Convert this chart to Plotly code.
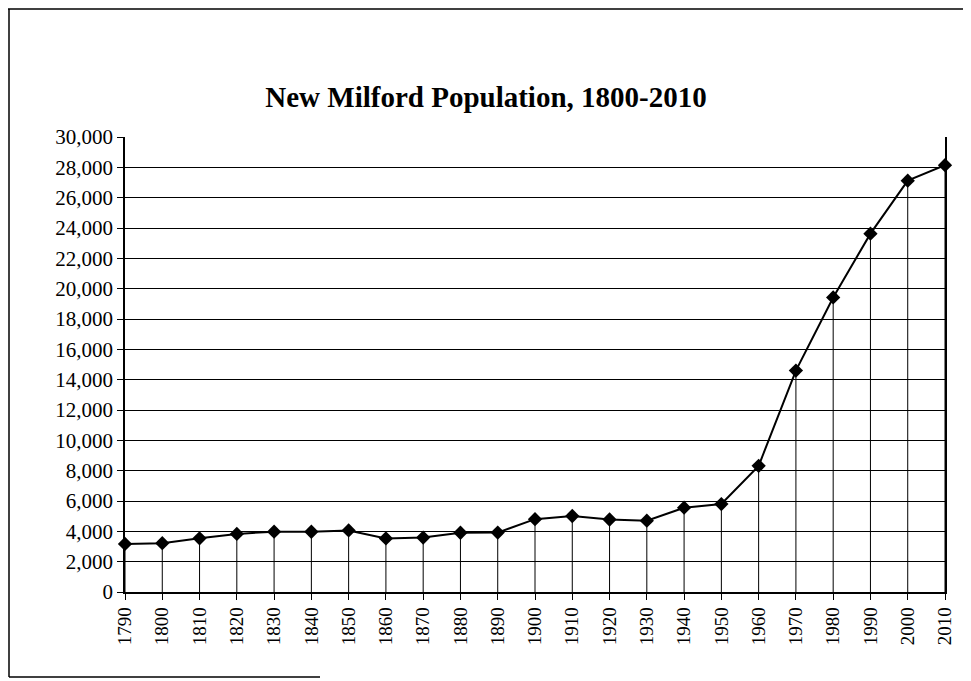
import plotly.graph_objects as go

years = [1790, 1800, 1810, 1820, 1830, 1840, 1850, 1860, 1870, 1880, 1890, 1900,
         1910, 1920, 1930, 1940, 1950, 1960, 1970, 1980, 1990, 2000, 2010]
population = [3167, 3221, 3537, 3830, 3979, 3974, 4058, 3535, 3586, 3907, 3917, 4804,
              5010, 4781, 4700, 5559, 5799, 8318, 14601, 19420, 23629, 27121, 28142]
year_labels = [str(y) for y in years]
title_text = "New Milford Population, 1800-2010"

OFF = 8  # page body margin
W, H = 971 - OFF, 681 - OFF
L, R, T, B = 125 - OFF, 945 - OFF, 137 - OFF, 592 - OFF

def px(x):
    return (x - OFF - L) / (R - L)

def py(y):
    return (B - (y - OFF)) / (B - T)

# drop lines from each point to the axis
drop_x, drop_y = [], []
for yr, v in zip(years, population):
    drop_x += [yr, yr, None]
    drop_y += [0, v, None]

fig = go.Figure()
fig.add_trace(go.Scatter(x=drop_x, y=drop_y, mode="lines",
                         line=dict(color="black", width=1),
                         hoverinfo="skip", showlegend=False))
fig.add_trace(go.Scatter(x=years, y=population, mode="lines+markers",
                         line=dict(color="black", width=2),
                         marker=dict(symbol="diamond", size=11, color="black"),
                         cliponaxis=False, showlegend=False))

font_family = "Liberation Serif, Times New Roman, serif"

fig.update_layout(
    width=W, height=H,
    margin=dict(l=L, r=W - R, t=T, b=H - B),
    paper_bgcolor="white", plot_bgcolor="white",
    title=dict(text="<b>" + title_text + "</b>", x=(486 - OFF) / W, xanchor="center",
               y=1 - (97 - OFF) / H, yanchor="middle",
               font=dict(family=font_family, size=29, color="black")),
    font=dict(family=font_family, color="black"),
    xaxis=dict(range=[1790, 2010], tickmode="array", tickvals=years, ticktext=year_labels,
               tickangle=-90, ticks="outside", ticklen=6, tickcolor="black",
               showline=True, linecolor="black", linewidth=1.5, mirror=False,
               showgrid=False, zeroline=False,
               tickfont=dict(family=font_family, size=19, color="black")),
    yaxis=dict(range=[0, 30000], dtick=2000, tickformat=",d",
               ticks="outside", ticklen=6, tickcolor="black",
               showline=True, linecolor="black", linewidth=1.5, mirror=True,
               showgrid=True, gridcolor="black", gridwidth=1, zeroline=False,
               tickfont=dict(family=font_family, size=21, color="black")),
    shapes=[
        dict(type="line", xref="paper", yref="paper", x0=px(8), x1=px(971), y0=py(9), y1=py(9),
             line=dict(color="black", width=1.5)),
        dict(type="line", xref="paper", yref="paper", x0=px(9), x1=px(9), y0=py(9), y1=py(677),
             line=dict(color="black", width=1.5)),
        dict(type="line", xref="paper", yref="paper", x0=px(9), x1=px(320), y0=py(677), y1=py(677),
             line=dict(color="black", width=1.5)),
    ],
)

fig.write_html("out.html")
